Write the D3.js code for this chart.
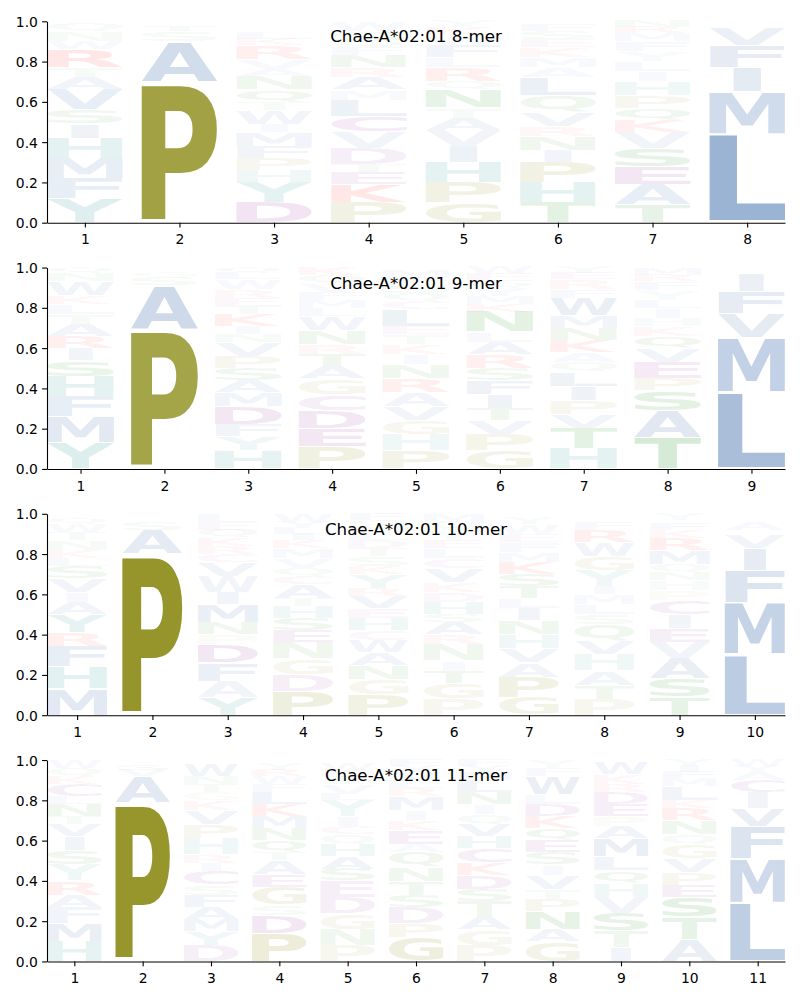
<!DOCTYPE html>
<html><head><meta charset="utf-8">
<script src="https://cdn.jsdelivr.net/npm/d3@7"></script>
<style>body{margin:0;background:#fff}</style>
</head><body>
<svg id="chart" width="800" height="1000"></svg>
<script>
// ---------------- DATA ----------------
const titles = ["Chae-A*02:01 8-mer", "Chae-A*02:01 9-mer", "Chae-A*02:01 10-mer", "Chae-A*02:01 11-mer"];
const yTickValues = [0, 0.2, 0.4, 0.6, 0.8, 1.0];

// each position: letters stacked bottom -> top, with frequency
const mer8 = [
  [["Y",.12],["F",.10],["M",.10],["H",.10],["I",.07],["S",.07],["V",.10],["A",.06],["T",.05],["R",.09],["W",.04],["N",.05],["Q",.04]],
  [["P",.70],["A",.20],["S",.05],["T",.03],["V",.02]],
  [["D",.10],["Y",.10],["H",.06],["P",.06],["F",.06],["M",.07],["I",.04],["W",.07],["T",.04],["Q",.06],["N",.07],["A",.03],["V",.05],["R",.07],["K",.03],["L",.03]],
  [["P",.10],["K",.09],["E",.06],["T",.04],["D",.08],["V",.08],["C",.08],["L",.08],["M",.05],["A",.06],["R",.05],["N",.06],["F",.04],["Q",.03],["S",.05],["W",.05]],
  [["G",.10],["P",.10],["H",.10],["I",.08],["V",.08],["A",.06],["T",.05],["N",.09],["Q",.04],["R",.07],["L",.05],["F",.06],["W",.05],["K",.04],["Y",.03]],
  [["T",.10],["H",.10],["P",.10],["I",.06],["N",.07],["R",.05],["V",.07],["Q",.08],["L",.09],["A",.05],["M",.05],["K",.05],["E",.04],["S",.04],["F",.03],["Y",.02]],
  [["T",.09],["A",.10],["E",.09],["S",.09],["V",.08],["K",.06],["Q",.06],["P",.06],["H",.07],["I",.05],["L",.05],["Y",.05],["F",.05],["M",.04],["R",.03],["N",.03]],
  [["L",.44],["M",.21],["I",.12],["F",.11],["V",.09],["A",.02],["Y",.01]]
];
const mer9 = [
  [["Y",.13],["M",.13],["F",.10],["H",.10],["S",.08],["I",.06],["R",.06],["A",.06],["T",.05],["L",.05],["K",.04],["W",.07],["N",.04],["Q",.03]],
  [["P",.69],["A",.22],["S",.04],["G",.03],["V",.02]],
  [["H",.09],["Y",.07],["F",.06],["D",.09],["M",.07],["A",.06],["S",.06],["P",.06],["V",.07],["N",.04],["I",.04],["K",.06],["T",.04],["E",.04],["R",.04],["W",.05],["L",.03],["Q",.03]],
  [["P",.11],["E",.09],["D",.09],["C",.08],["G",.08],["A",.06],["T",.06],["R",.05],["N",.07],["W",.07],["L",.04],["M",.04],["F",.04],["V",.04],["Q",.04],["K",.04]],
  [["P",.09],["H",.08],["G",.07],["V",.07],["A",.07],["R",.07],["N",.07],["I",.05],["K",.05],["T",.05],["E",.04],["L",.08],["C",.04],["Q",.04],["S",.04],["F",.04],["M",.03],["Y",.02]],
  [["G",.09],["P",.08],["V",.07],["T",.06],["I",.07],["F",.07],["S",.06],["R",.07],["A",.06],["L",.05],["N",.10],["K",.04],["M",.04],["Y",.04],["Q",.03],["E",.04],["W",.03]],
  [["H",.10],["T",.10],["V",.07],["P",.07],["I",.07],["L",.07],["Q",.05],["A",.05],["K",.06],["N",.06],["M",.06],["W",.09],["F",.04],["R",.05],["E",.03],["Y",.03]],
  [["T",.155],["A",.135],["S",.10],["P",.06],["E",.08],["V",.07],["Q",.06],["K",.05],["H",.04],["I",.05],["L",.04],["Y",.05],["F",.04],["R",.03],["M",.03],["W",.01]],
  [["L",.38],["M",.27],["V",.12],["F",.11],["I",.09],["Y",.02],["A",.01]]
];
const mer10 = [
  [["M",.13],["H",.11],["F",.10],["R",.07],["Y",.09],["A",.06],["I",.05],["V",.07],["S",.06],["L",.04],["K",.04],["N",.05],["T",.04],["W",.04],["Q",.03],["G",.02]],
  [["P",.80],["A",.12],["S",.04],["G",.02],["V",.02]],
  [["Y",.09],["A",.08],["F",.09],["D",.09],["P",.05],["N",.06],["M",.09],["I",.06],["W",.08],["V",.07],["C",.04],["R",.04],["K",.04],["Q",.04],["E",.04],["L",.04]],
  [["P",.12],["D",.08],["G",.08],["N",.08],["E",.06],["S",.06],["H",.06],["T",.04],["A",.07],["C",.04],["Q",.04],["V",.05],["M",.05],["K",.04],["I",.03],["L",.03],["Y",.03],["W",.04]],
  [["P",.10],["G",.08],["N",.07],["A",.06],["W",.06],["C",.05],["H",.06],["E",.05],["V",.06],["R",.04],["Y",.07],["K",.04],["S",.05],["T",.04],["D",.04],["L",.04],["M",.03],["Q",.03],["F",.03]],
  [["P",.08],["G",.08],["T",.06],["I",.05],["N",.08],["R",.05],["A",.06],["S",.04],["H",.06],["D",.05],["K",.05],["V",.07],["C",.05],["L",.05],["E",.04],["Y",.05],["Q",.04],["M",.04]],
  [["G",.09],["P",.10],["A",.07],["V",.07],["H",.07],["N",.07],["I",.06],["L",.05],["T",.06],["S",.06],["K",.06],["M",.05],["F",.05],["E",.04],["W",.05],["Y",.03],["Q",.02]],
  [["P",.08],["T",.07],["A",.07],["H",.08],["V",.07],["Q",.08],["S",.05],["L",.05],["M",.05],["I",.04],["Y",.08],["G",.07],["W",.07],["R",.06],["F",.04],["E",.02],["K",.02]],
  [["T",.09],["S",.09],["A",.10],["V",.08],["E",.07],["I",.07],["C",.07],["P",.05],["H",.05],["N",.04],["Q",.04],["M",.07],["R",.06],["K",.04],["F",.03],["L",.02],["Y",.03]],
  [["L",.30],["M",.26],["F",.16],["I",.11],["V",.07],["Y",.02],["A",.04],["W",.02],["C",.02]]
];
const mer11 = [
  [["H",.10],["M",.09],["F",.08],["A",.06],["R",.07],["Y",.08],["S",.07],["I",.07],["V",.06],["T",.04],["N",.06],["L",.04],["C",.06],["K",.04],["Q",.04],["W",.04]],
  [["P",.79],["A",.13],["V",.03],["S",.03],["L",.02]],
  [["D",.08],["Y",.07],["M",.06],["A",.06],["F",.06],["S",.05],["C",.07],["I",.04],["R",.04],["H",.08],["P",.07],["V",.07],["K",.05],["G",.04],["T",.04],["N",.04],["W",.06],["Q",.02]],
  [["P",.14],["D",.09],["S",.05],["G",.09],["E",.06],["A",.07],["T",.04],["Q",.06],["N",.06],["M",.06],["K",.06],["L",.06],["F",.04],["W",.04],["R",.03],["Y",.03],["V",.02]],
  [["P",.08],["N",.08],["G",.08],["D",.08],["E",.08],["S",.06],["A",.06],["H",.06],["Q",.05],["C",.04],["I",.05],["Y",.08],["L",.03],["V",.05],["T",.04],["K",.03],["W",.03],["M",.02]],
  [["G",.12],["P",.07],["D",.08],["S",.06],["T",.07],["N",.07],["Q",.07],["A",.04],["E",.07],["K",.05],["I",.05],["M",.07],["R",.04],["L",.04],["V",.04],["Y",.03],["F",.03]],
  [["P",.08],["G",.08],["A",.06],["T",.08],["S",.06],["D",.07],["K",.06],["C",.07],["H",.06],["V",.06],["Q",.05],["I",.05],["N",.06],["L",.06],["M",.04],["Y",.03],["F",.03]],
  [["G",.10],["A",.06],["N",.09],["P",.06],["T",.05],["V",.07],["I",.05],["S",.06],["E",.06],["Q",.06],["K",.06],["D",.06],["L",.05],["W",.09],["F",.04],["Y",.04]],
  [["I",.07],["T",.08],["S",.09],["V",.08],["H",.07],["Q",.06],["L",.07],["M",.09],["A",.06],["P",.05],["E",.06],["D",.06],["R",.04],["K",.05],["W",.06]],
  [["A",.11],["T",.11],["S",.10],["E",.06],["P",.06],["V",.07],["G",.07],["Q",.05],["N",.07],["R",.06],["K",.04],["L",.07],["M",.04],["F",.03],["I",.03],["Y",.03]],
  [["L",.29],["M",.22],["F",.16],["V",.09],["I",.08],["C",.06],["A",.04],["Y",.03],["W",.03]]
];
const panels = [mer8, mer9, mer10, mer11];

// ---------------- STYLE ----------------
const groupColors = [
  ["GP", "#808000"],
  ["AVLIMFW", "#285ca2"],
  ["HY", "#008080"],
  ["STNQ", "#008000"],
  ["DEC", "#800080"],
  ["KR", "#ff0000"]
];
const letterColor = {};
groupColors.forEach(([ls, c]) => ls.split("").forEach(l => letterColor[l] = c));

const W = 800;
const left = 47, right = 785;
const firstTop = 21.3, panelStep = 246.25, panelH = 201.4;
const letterWidth = 0.8, vpad = 0.05;
const FONT = "'DejaVu Sans', 'Liberation Sans', sans-serif";
const GF = 200;

// glyph metrics
const ctx = document.createElement("canvas").getContext("2d");
ctx.font = `bold ${GF}px ${FONT}`;
ctx.textAlign = "left";
ctx.textBaseline = "alphabetic";
const metricCache = {};
function metric(ch) {
  if (!metricCache[ch]) {
    const m = ctx.measureText(ch);
    metricCache[ch] = {
      l: m.actualBoundingBoxLeft, r: m.actualBoundingBoxRight,
      a: m.actualBoundingBoxAscent, d: m.actualBoundingBoxDescent
    };
  }
  return metricCache[ch];
}
const eM = metric("E");
const eWidth = eM.l + eM.r;

const svg = d3.select("#chart");

panels.forEach((cols, pi) => {
  const n = cols.length;
  const top = firstTop + pi * panelStep;
  const bottom = top + panelH;
  const x = d3.scaleLinear().domain([1 - letterWidth / 2, n + letterWidth / 2]).range([left, right]);
  const y = d3.scaleLinear().domain([0, 1]).range([bottom, top]);
  const g = svg.append("g");

  // letters
  const lg = g.append("g");
  cols.forEach((stack, ci) => {
    const pos = ci + 1;
    let base = 0;
    stack.forEach(([ch, h]) => {
      const m = metric(ch);
      const gw = m.l + m.r, gh = m.a + m.d;
      const x0 = x(pos - letterWidth / 2), x1 = x(pos + letterWidth / 2);
      const boxW = x1 - x0;
      const pad = h * vpad / 2;
      const yb = y(base + pad), yt = y(base + h - pad);
      const boxH = yb - yt;
      const sx = boxW / Math.max(gw, eWidth);
      const sy = boxH / gh;
      const off = x0 + (boxW - gw * sx) / 2;
      lg.append("text")
        .attr("x", 0).attr("y", 0)
        .attr("font-family", FONT)
        .attr("font-weight", "bold")
        .attr("font-size", GF)
        .attr("fill", letterColor[ch])
        .attr("fill-opacity", Math.min(1, h * 1.04))
        .attr("transform", `translate(${off},${yb}) scale(${sx},${sy}) translate(${m.l},${-m.d})`)
        .text(ch);
      base += h;
    });
  });

  // axes
  const yAxis = d3.axisLeft(y).tickValues(yTickValues).tickFormat(d3.format(".1f")).tickSizeInner(4.9).tickSizeOuter(0).tickPadding(4.2);
  const xAxis = d3.axisBottom(x).tickValues(d3.range(1, n + 1)).tickFormat(d3.format("d")).tickSizeInner(4.9).tickSizeOuter(0).tickPadding(4.2);
  const ya = g.append("g").attr("transform", `translate(${left},0)`).call(yAxis);
  const xa = g.append("g").attr("transform", `translate(0,${bottom})`).call(xAxis);
  [ya, xa].forEach(a => {
    a.attr("font-family", FONT).attr("font-size", 13.9);
    a.selectAll("path.domain").attr("stroke", "#000").attr("stroke-width", 1.1);
    a.selectAll(".tick line").attr("stroke", "#000").attr("stroke-width", 1.1);
    a.selectAll(".tick text").attr("fill", "#000");
  });
  ya.selectAll(".tick text").attr("dy", null).attr("dominant-baseline", "auto").attr("y", 5);
  xa.selectAll(".tick text").attr("dy", null).attr("y", 21.8);

  // title
  g.append("text")
    .attr("x", (left + right) / 2)
    .attr("y", top + 21)
    .attr("text-anchor", "middle")
    .attr("font-family", FONT)
    .attr("font-size", 16.7)
    .attr("fill", "#000")
    .text(titles[pi]);
});
</script>
</body></html>
